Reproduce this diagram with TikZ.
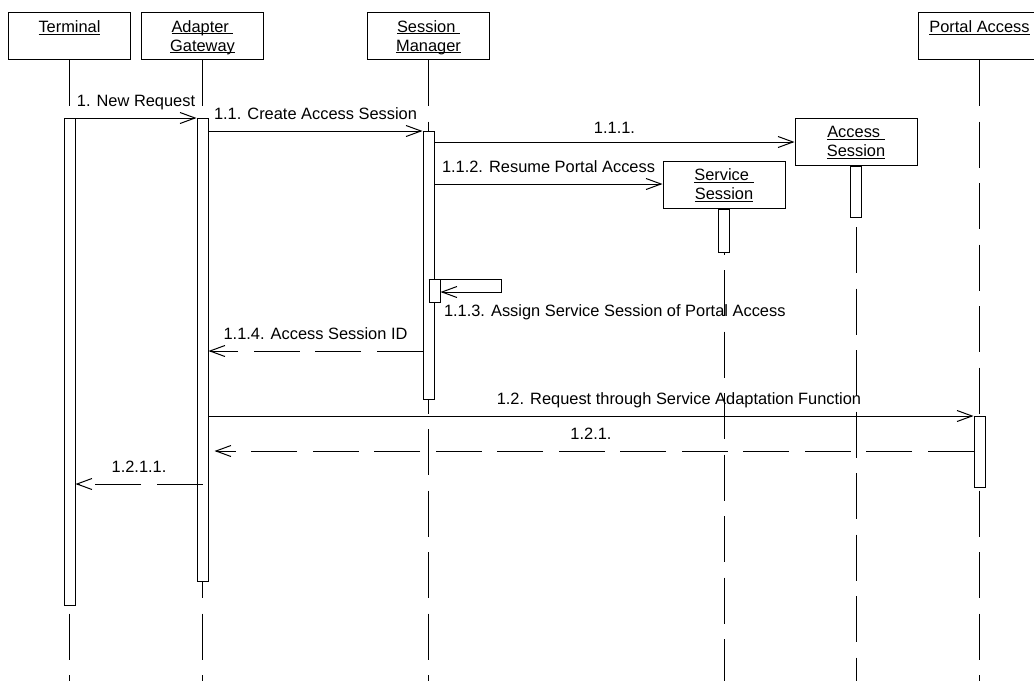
\documentclass[tikz,border=0pt]{standalone}
\usepackage{fontspec}
\setmainfont{Liberation Sans}
\usetikzlibrary{arrows.meta}

% underlined object name, rule just below the baseline
\newcommand\objname[1]{\setbox0=\hbox{#1}\rlap{\rule[-2.4pt]{\wd0}{1.4pt}}\box0}

\tikzset{
    obj/.style={draw, fill=white, minimum width=122pt, minimum height=47pt,
        inner sep=0pt, align=center, text height=13pt, text depth=20pt},
    objtwo/.style={obj, text height=31pt, text depth=1pt},
    act/.style={draw, fill=white, minimum width=11pt, inner sep=0pt, anchor=north},
    lifeline/.style={dash pattern=on 46pt off 15.5pt},
    call/.style={-{Straight Barb[length=15pt,width=11pt]}},
    reply/.style={call, dash pattern=on 46pt off 15.5pt},
    msg/.style={anchor=base, yshift=12pt, inner sep=0pt}
}

\begin{document}
\begin{tikzpicture}[x=1pt, y=-1pt, line width=1pt, font=\fontsize{16.4}{19}\selectfont]
    \useasboundingbox (0,0) rectangle (1034,681);
    \clip (0,0) rectangle (1034,681);

    % Draw the objects
    \node[obj] (term) at (69.5,36) {\objname{Terminal}};
    \node[objtwo] (adapt) at (202.5,36) {\objname{Adapter\ }\\\objname{Gateway}};
    \node[objtwo] (sman) at (428.5,36) {\objname{Session\ }\\\objname{Manager}};
    \node[obj] (portal) at (979.5,36) {\objname{Portal Access}};
    \node[objtwo] (acc) at (856,141.5) {\objname{Access\ }\\\objname{Session}};
    \node[objtwo] (serv) at (724,184.5) {\objname{Service\ }\\\objname{Session}};

    % Draw the lifelines
    \foreach \o in {term, adapt, sman, serv, acc, portal}
        \draw[lifeline] (\o.south) -- (\o.south |- 0,681);

    % Draw the activations
    \node[act, minimum height=487pt] (termA) at (term.south |- 0,118) {};
    \node[act, minimum height=463pt] (adaptA) at (adapt.south |- 0,118) {};
    \node[act, minimum height=268pt] (smA) at (sman.south |- 0,131) {};
    \node[act, minimum height=23pt] (selfA) at (smA.east |- 0,279) {};
    \node[act, minimum height=43pt] (servA) at (serv.south) {};
    \node[act, minimum height=51pt] (accA) at (acc.south) {};
    \node[act, minimum height=71pt] (portA) at (portal.south |- 0,416) {};

    % Draw the messages
    \draw[call] (termA.east |- 0,118) -- node[msg] {1. New Request} (adaptA.west |- 0,118);
    \draw[call] (adaptA.east |- 0,131) -- node[msg] {1.1. Create Access Session} (smA.west |- 0,131);
    \draw[call] (smA.east |- 0,142) -- node[msg, yshift=-3pt] {1.1.1.} (acc.west |- 0,142);
    \draw[call] (smA.east |- 0,184) -- node[msg] {1.1.2. Resume Portal Access} (serv.west |- 0,184);
    \draw[call] (selfA.north west) -- ++(73,0) -- ++(0,13) -- (selfA.east |- 0,292);
    \node[anchor=base west, inner sep=0pt] (assign) at ([xshift=3pt, yshift=-13pt]selfA.south east)
        {1.1.3. Assign Service Session of Portal Access};
    \draw[reply] (smA.west |- 0,351) -- node[msg] {1.1.4. Access Session ID} (adaptA.east |- 0,351);
    \draw[call] (adaptA.east |- 0,416) -- node[msg, pos=0.615] {1.2. Request through Service Adaptation Function} (portA.west |- 0,416);
    \draw[reply, shorten >=6pt] (portA.west |- 0,451) -- node[msg] {1.2.1.} (adaptA.east |- 0,451);
    \draw[reply] (adaptA.center |- 0,484) -- node[msg] {1.2.1.1.} (termA.east |- 0,484);
\end{tikzpicture}
\end{document}
